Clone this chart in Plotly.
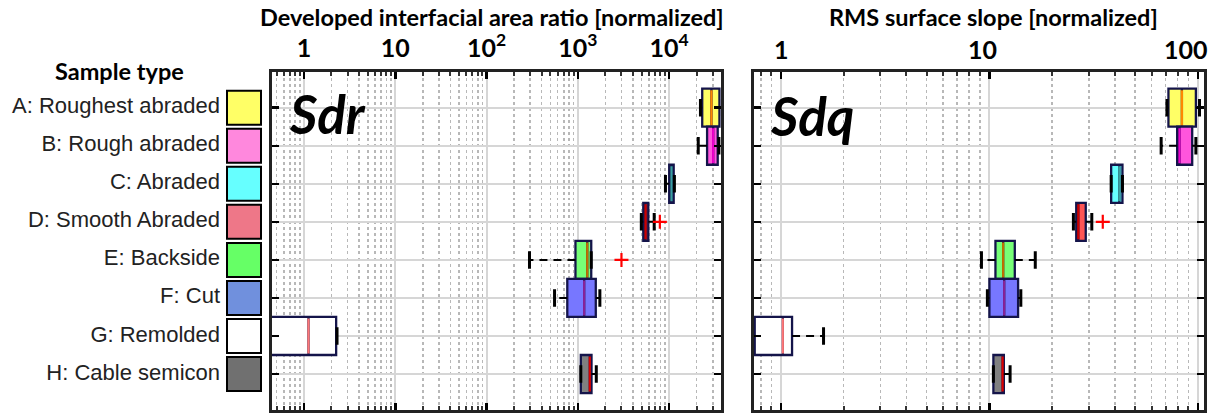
import math
import plotly.graph_objects as go

# ---------------- data ----------------
categories = ["A: Roughest abraded", "B: Rough abraded", "C: Abraded", "D: Smooth Abraded",
              "E: Backside", "F: Cut", "G: Remolded", "H: Cable semicon"]
rows = list(range(len(categories)))

# Sdr: developed interfacial area ratio [normalized]
sdr_lo  = [22000, 20800, 9100, 4950, 295, 555, 0.3, 1076]
sdr_q1  = [23000, 26000, 10000, 5200, 940, 765, 0.3, 1076]
sdr_med = [29000, 30300, 10600, 5500, 1265, 1170, 1.12, 1350]
sdr_q3  = [35500, 34000, 11200, 5900, 1400, 1570, 2.25, 1410]
sdr_hi  = [38300, 35000, 11400, 6850, 1400, 1740, 2.3, 1590]
sdr_out_rows = [3, 4]
sdr_out_vals = [7900, 3000]

# Sdq: RMS surface slope [normalized]
sdq_lo  = [71.1, 66.7, 38.4, 25.3, 9.16, 9.78, 0.726, 10.45]
sdq_q1  = [72.3, 79.6, 38.4, 26.1, 10.69, 10.0, 0.748, 10.45]
sdq_med = [83.9, 81.7, 42.0, 26.7, 11.64, 11.77, 1.02, 11.57]
sdq_q3  = [97.9, 94.0, 43.5, 29.0, 13.24, 13.73, 1.13, 11.73]
sdq_hi  = [101.9, 97.9, 43.5, 31.0, 16.6, 14.15, 1.60, 12.57]
sdq_out_rows = [3]
sdq_out_vals = [35.0]

sdr_tickvals = [1, 10, 100, 1000, 10000]
sdr_ticktext = ["1", "10", "10<sup>2</sup>", "10<sup>3</sup>", "10<sup>4</sup>"]
sdq_tickvals = [1, 10, 100]
sdq_ticktext = ["1", "10", "100"]

# ---------------- styles ----------------
legend_colors = ["#ffff66", "#ff88dd", "#66ffff", "#ee7788", "#66ff66", "#7090dd", "#ffffff", "#707070"]
sdr_fill = ["#ffff66", "#ff55dd", "#66ffff", "#ff2222", "#77ff77", "#7777ff", "#ffffff", "#808080"]
sdq_fill = ["#ffff66", "#ff55dd", "#66ffff", "#ff5555", "#77ff77", "#7777ff", "#ffffff", "#808080"]
median_colors = ["#ff8800", "#ee00cc", "#3aa0a0", "#cc0000", "#c07000", "#882299", "#ff7777", "#dd0000"]
sdq_label_shift = [0, -7, -12]
EDGE = "#14144a"

# body margin is removed by a small post-script, so page pixels == figure pixels
OFF = 0
W, H = 1214 - OFF, 414 - OFF


def px(x):
    return (x - OFF) / W


def py(y):
    return 1 - (y - OFF) / H


fig = go.Figure()


def add_panel(xa, ya, lo, q1, med, q3, hi, out_rows, out_vals, fills):
    for r in rows:
        fig.add_trace(go.Box(
            orientation="h", y=[r], q1=[q1[r]], median=[med[r]], q3=[q3[r]],
            lowerfence=[q1[r]], upperfence=[q3[r]], width=1.0,
            fillcolor=fills[r], line=dict(color=EDGE, width=2.3),
            boxpoints=False, whiskerwidth=0, hoverinfo="skip",
            xaxis=xa, yaxis=ya, showlegend=False))
    # median lines
    fig.add_trace(go.Scatter(
        x=med, y=rows, mode="markers", xaxis=xa, yaxis=ya, showlegend=False,
        marker=dict(symbol="line-ns", size=25,
                    line=dict(color=median_colors, width=2.2)),
        hoverinfo="skip"))
    # dashed whiskers
    wx, wy = [], []
    for r in rows:
        wx += [q1[r], lo[r], None, q3[r], hi[r], None]
        wy += [r, r, None, r, r, None]
    fig.add_trace(go.Scatter(
        x=wx, y=wy, mode="lines", xaxis=xa, yaxis=ya, showlegend=False,
        line=dict(color="black", width=2, dash="8px,6px"), hoverinfo="skip"))
    # whisker caps
    fig.add_trace(go.Scatter(
        x=lo + hi, y=rows + rows, mode="markers", xaxis=xa, yaxis=ya, showlegend=False,
        marker=dict(symbol="line-ns", size=12.5, line=dict(color="black", width=3)),
        hoverinfo="skip"))
    # outliers
    fig.add_trace(go.Scatter(
        x=out_vals, y=out_rows, mode="markers", xaxis=xa, yaxis=ya, showlegend=False,
        marker=dict(symbol="cross-thin", size=10, line=dict(color="#ff0000", width=2.2)),
        hoverinfo="skip"))


add_panel("x", "y", sdr_lo, sdr_q1, sdr_med, sdr_q3, sdr_hi, sdr_out_rows, sdr_out_vals, sdr_fill)
add_panel("x2", "y2", sdq_lo, sdq_q1, sdq_med, sdq_q3, sdq_hi, sdq_out_rows, sdq_out_vals, sdq_fill)

# legend column (sample type)
LEG_X0, LEG_X1 = 0, 270
fig.add_trace(go.Scatter(
    x=[244] * len(rows), y=rows, mode="markers", xaxis="x3", yaxis="y3", showlegend=False,
    marker=dict(symbol="square", size=34, color=legend_colors, line=dict(color="black", width=2)),
    hoverinfo="skip"))
fig.add_trace(go.Scatter(
    x=[220] * len(rows), y=rows, mode="text", text=categories, textposition="middle left",
    xaxis="x3", yaxis="y3", showlegend=False,
    textfont=dict(family="Liberation Sans", size=22, color="#222222"), hoverinfo="skip"))


def minor_vals(lo_exp, hi_exp):
    return [m * 10 ** e for e in range(lo_exp, hi_exp + 1) for m in range(2, 10)]


# frame (inner edges) in page pixels; rows: A at 107.7 px, 38.05 px apart
TOP, BOT = 71.5, 409.5
ROW0, ROWSTEP = 107.7, 38.05
ydom = [py(BOT), py(TOP)]
yrange = [7 + (BOT - (ROW0 + 7 * ROWSTEP)) / ROWSTEP, -(ROW0 - TOP) / ROWSTEP]

# x frames (inner edges) and log scale anchors (pixel of "1", px per decade)
SDR_L, SDR_R, SDR_ONE, SDR_DEC = 271.5, 721.0, 304.0, 91.3
SDQ_L, SDQ_R, SDQ_ONE, SDQ_DEC = 753.5, 1203.5, 781.0, 208.4


def xaxis_cfg(dom, rng, tv, tt, mv, labels=True):
    return dict(
        domain=dom, type="log", range=rng, side="top",
        tickmode="array", tickvals=tv, ticktext=["<b>%s</b>" % t for t in tt],
        showticklabels=labels,
        tickfont=dict(family="Lato", size=25, color="black"),
        ticks="inside", ticklen=7, tickwidth=2.5, tickcolor="black",
        ticklabelstandoff=2, ticklabeloverflow="allow",
        showline=True, linewidth=3, linecolor="#222222", mirror="allticks",
        showgrid=True, gridcolor="#d6d6d6", gridwidth=2, zeroline=False,
        minor=dict(tickmode="array", tickvals=mv, ticks="inside", ticklen=4,
                   tickwidth=2, tickcolor="#333333", showgrid=True,
                   griddash="dot", gridcolor="#b8b8b8", gridwidth=1.5))


def yaxis_cfg(anchor):
    return dict(
        domain=ydom, range=yrange, anchor=anchor, tickmode="array", tickvals=rows,
        showticklabels=False, ticks="inside", ticklen=7, tickwidth=2.5, tickcolor="black",
        showline=True, linewidth=3, linecolor="#222222", mirror="allticks",
        showgrid=True, gridcolor="#d6d6d6", gridwidth=2, zeroline=False)


annotations = [
    dict(text="<b>Developed interfacial area ratio [normalized]</b>", x=px(492), y=py(17),
         xref="paper", yref="paper", showarrow=False, xanchor="center", yanchor="middle",
         font=dict(family="Lato", size=23.5, color="black")),
    dict(text="<b>RMS surface slope [normalized]</b>", x=px(993), y=py(17),
         xref="paper", yref="paper", showarrow=False, xanchor="center", yanchor="middle",
         font=dict(family="Lato", size=23.5, color="black")),
    dict(text="<b>Sample type</b>", x=px(119), y=py(71),
         xref="paper", yref="paper", showarrow=False, xanchor="center", yanchor="middle",
         font=dict(family="Lato", size=23.5, color="black")),
    dict(text="<b><i>Sdr</i></b>", x=px(287), y=py(113),
         xref="paper", yref="paper", showarrow=False, xanchor="left", yanchor="middle",
         font=dict(family="Lato", size=53, color="black")),
    dict(text="<b><i>Sdq</i></b>", x=px(768), y=py(115),
         xref="paper", yref="paper", showarrow=False, xanchor="left", yanchor="middle",
         font=dict(family="Lato", size=53, color="black")),
]
# Sdq tick labels (placed on the axis scale, nudged as in the reference)
for v, t, s in zip(sdq_tickvals, sdq_ticktext, sdq_label_shift):
    annotations.append(dict(
        text="<b>%s</b>" % t, x=math.log10(v), xref="x2", y=py(49), yref="paper",
        xshift=s, showarrow=False, xanchor="center", yanchor="middle",
        font=dict(family="Lato", size=25, color="black")))

fig.update_layout(
    width=W, height=H, margin=dict(l=0, r=0, t=0, b=0),
    paper_bgcolor="white", plot_bgcolor="white", showlegend=False,
    xaxis=xaxis_cfg([px(SDR_L), px(SDR_R)],
                    [(SDR_L - SDR_ONE) / SDR_DEC, (SDR_R - SDR_ONE) / SDR_DEC],
                    sdr_tickvals, sdr_ticktext, minor_vals(-1, 4)),
    yaxis=yaxis_cfg("x"),
    xaxis2=dict(xaxis_cfg([px(SDQ_L), px(SDQ_R)],
                          [(SDQ_L - SDQ_ONE) / SDQ_DEC, (SDQ_R - SDQ_ONE) / SDQ_DEC],
                          sdq_tickvals, sdq_ticktext, minor_vals(-1, 2), labels=False),
                anchor="y2"),
    yaxis2=yaxis_cfg("x2"),
    xaxis3=dict(domain=[0, px(LEG_X1)], range=[LEG_X0, LEG_X1], visible=False, anchor="y3"),
    yaxis3=dict(domain=ydom, range=yrange, visible=False, anchor="x3"),
    annotations=annotations,
)

fig.write_html(
    "out.html",
    config={"displayModeBar": False, "staticPlot": True},
    post_script="document.body.style.margin='0';"
                "document.documentElement.style.overflow='hidden';")
